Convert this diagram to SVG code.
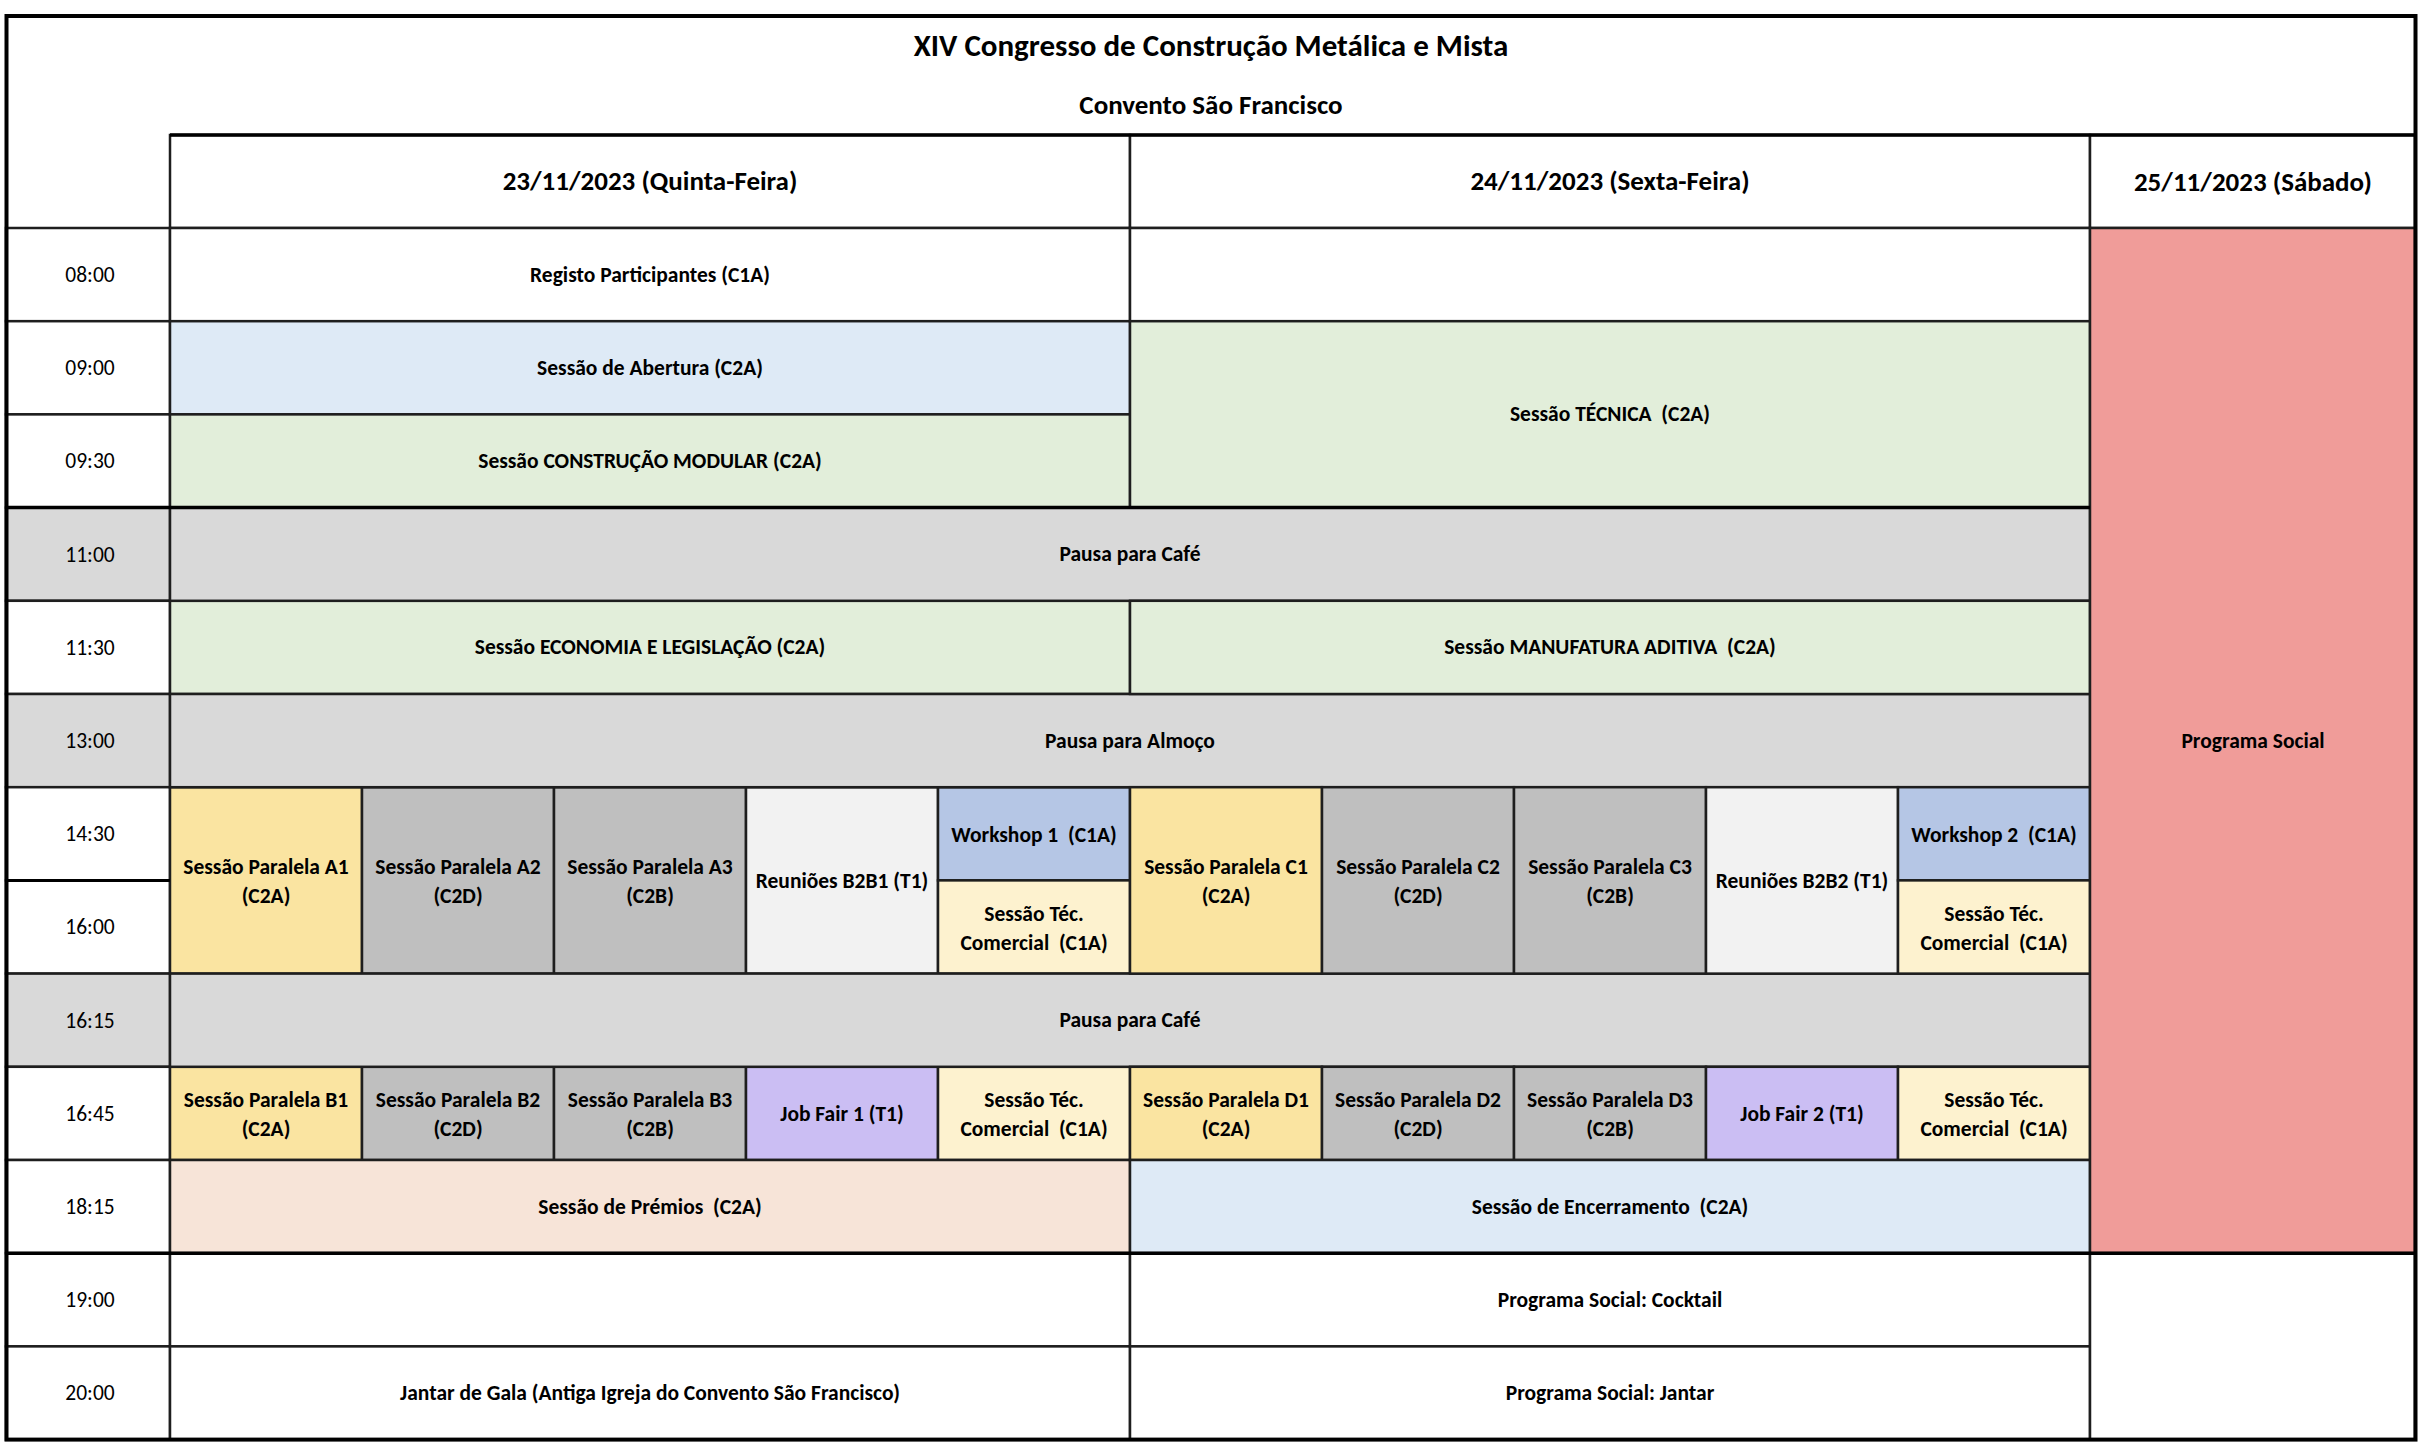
<svg xmlns="http://www.w3.org/2000/svg" width="2423" height="1453" viewBox="0 0 2423 1453">
<style>
.t{font-family:Carlito,Lato,"Liberation Sans Narrow","Liberation Sans",sans-serif;font-weight:bold;font-size:21.5px;text-anchor:middle;fill:#000;white-space:pre}
.tm{font-weight:normal}
.h{font-size:27px}
.ti{font-size:31px}
.c{stroke:#1e1e1e;stroke-width:2.5}
.w{fill:#FFFFFF}.bl{fill:#DEEAF6}.gr{fill:#E2EEDA}.g{fill:#D9D9D9}.pk{fill:#F09C99}
.y{fill:#FAE4A1}.g2{fill:#BFBFBF}.lt{fill:#F2F2F2}.wb{fill:#B5C6E5}.cr{fill:#FDF2CF}.pu{fill:#CBBEF3}.pe{fill:#F7E4D8}
.thick{stroke:#000;stroke-width:4;fill:none}
</style>
<rect x="0" y="0" width="2423" height="1453" fill="#FFFFFF"/>
<g id="title">
<rect x="6" y="16" width="2409" height="119" class="w"/>
<text class="t ti" x="1211" y="56">XIV Congresso de Construção Metálica e Mista</text>
<text class="t h" x="1211" y="114">Convento São Francisco</text>
</g>
<g id="time-header"><rect x="6" y="16" width="164" height="212" class="w"/></g>
<g id="hdr-day1"><rect x="170" y="135" width="960" height="93" class="w c"/><text class="t h" x="650" y="190">23/11/2023 (Quinta-Feira)</text></g>
<g id="hdr-day2"><rect x="1130" y="135" width="960" height="93" class="w c"/><text class="t h" x="1610" y="190">24/11/2023 (Sexta-Feira)</text></g>
<g id="hdr-day3"><rect x="2090" y="135" width="325" height="93" class="w c"/><text class="t h" x="2253" y="191">25/11/2023 (Sábado)</text></g>

<g id="times">
<g id="t0800"><rect x="6" y="228" width="164" height="93.2" class="w c"/><text class="t tm" x="90" y="282">08:00</text></g>
<g id="t0900"><rect x="6" y="321.2" width="164" height="93.2" class="w c"/><text class="t tm" x="90" y="375.2">09:00</text></g>
<g id="t0930"><rect x="6" y="414.4" width="164" height="93.2" class="w c"/><text class="t tm" x="90" y="468.4">09:30</text></g>
<g id="t1100"><rect x="6" y="507.6" width="164" height="93.2" class="g c"/><text class="t tm" x="90" y="561.6">11:00</text></g>
<g id="t1130"><rect x="6" y="600.8" width="164" height="93.2" class="w c"/><text class="t tm" x="90" y="654.8">11:30</text></g>
<g id="t1300"><rect x="6" y="694" width="164" height="93.2" class="g c"/><text class="t tm" x="90" y="748">13:00</text></g>
<g id="t1430"><rect x="6" y="787.2" width="164" height="93.2" class="w c"/><text class="t tm" x="90" y="841.2">14:30</text></g>
<g id="t1600"><rect x="6" y="880.4" width="164" height="93.2" class="w c"/><text class="t tm" x="90" y="934.4">16:00</text></g>
<g id="t1615"><rect x="6" y="973.6" width="164" height="93.2" class="g c"/><text class="t tm" x="90" y="1027.6">16:15</text></g>
<g id="t1645"><rect x="6" y="1066.8" width="164" height="93.2" class="w c"/><text class="t tm" x="90" y="1120.8">16:45</text></g>
<g id="t1815"><rect x="6" y="1160" width="164" height="93.2" class="w c"/><text class="t tm" x="90" y="1214">18:15</text></g>
<g id="t1900"><rect x="6" y="1253.2" width="164" height="93.2" class="w c"/><text class="t tm" x="90" y="1307.2">19:00</text></g>
<g id="t2000"><rect x="6" y="1346.4" width="164" height="93.2" class="w c"/><text class="t tm" x="90" y="1400.4">20:00</text></g>
</g>

<g id="day1">
<g id="registo"><rect x="170" y="228" width="960" height="93.2" class="w c"/><text class="t" x="650" y="281.6">Registo Participantes (C1A)</text></g>
<g id="abertura"><rect x="170" y="321.2" width="960" height="93.2" class="bl c"/><text class="t" x="650" y="374.8">Sessão de Abertura (C2A)</text></g>
<g id="modular"><rect x="170" y="414.4" width="960" height="93.2" class="gr c"/><text class="t" x="650" y="468">Sessão CONSTRUÇÃO MODULAR (C2A)</text></g>
<g id="economia"><rect x="170" y="600.8" width="960" height="93.2" class="gr c"/><text class="t" x="650" y="654.4">Sessão ECONOMIA E LEGISLAÇÃO (C2A)</text></g>
<g id="pa1"><rect x="170" y="787.2" width="192" height="186.4" class="y c"/><text class="t" x="266" y="874.4">Sessão Paralela A1</text><text class="t" x="266" y="903.4">(C2A)</text></g>
<g id="pa2"><rect x="362" y="787.2" width="192" height="186.4" class="g2 c"/><text class="t" x="458" y="874.4">Sessão Paralela A2</text><text class="t" x="458" y="903.4">(C2D)</text></g>
<g id="pa3"><rect x="554" y="787.2" width="192" height="186.4" class="g2 c"/><text class="t" x="650" y="874.4">Sessão Paralela A3</text><text class="t" x="650" y="903.4">(C2B)</text></g>
<g id="b2b1"><rect x="746" y="787.2" width="192" height="186.4" class="lt c"/><text class="t" x="842" y="888.4">Reuniões B2B1 (T1)</text></g>
<g id="ws1"><rect x="938" y="787.2" width="192" height="93.2" class="wb c"/><text class="t" x="1034" y="842">Workshop 1  (C1A)</text></g>
<g id="stc1"><rect x="938" y="880.4" width="192" height="93.2" class="cr c"/><text class="t" x="1034" y="921">Sessão Téc.</text><text class="t" x="1034" y="950">Comercial  (C1A)</text></g>
<g id="pb1"><rect x="170" y="1066.8" width="192" height="93.2" class="y c"/><text class="t" x="266" y="1107.4">Sessão Paralela B1</text><text class="t" x="266" y="1136.4">(C2A)</text></g>
<g id="pb2"><rect x="362" y="1066.8" width="192" height="93.2" class="g2 c"/><text class="t" x="458" y="1107.4">Sessão Paralela B2</text><text class="t" x="458" y="1136.4">(C2D)</text></g>
<g id="pb3"><rect x="554" y="1066.8" width="192" height="93.2" class="g2 c"/><text class="t" x="650" y="1107.4">Sessão Paralela B3</text><text class="t" x="650" y="1136.4">(C2B)</text></g>
<g id="jf1"><rect x="746" y="1066.8" width="192" height="93.2" class="pu c"/><text class="t" x="842" y="1121.4">Job Fair 1 (T1)</text></g>
<g id="stc1b"><rect x="938" y="1066.8" width="192" height="93.2" class="cr c"/><text class="t" x="1034" y="1107.4">Sessão Téc.</text><text class="t" x="1034" y="1136.4">Comercial  (C1A)</text></g>
<g id="premios"><rect x="170" y="1160" width="960" height="93.2" class="pe c"/><text class="t" x="650" y="1213.6">Sessão de Prémios  (C2A)</text></g>
<g id="d1-1900"><rect x="170" y="1253.2" width="960" height="93.2" class="w c"/></g>
<g id="gala"><rect x="170" y="1346.4" width="960" height="93.2" class="w c"/><text class="t" x="650" y="1400">Jantar de Gala (Antiga Igreja do Convento São Francisco)</text></g>
</g>

<g id="shared">
<g id="cafe1"><rect x="170" y="507.6" width="1920" height="93.2" class="g c"/><text class="t" x="1130" y="561.2">Pausa para Café</text></g>
<g id="almoco"><rect x="170" y="694" width="1920" height="93.2" class="g c"/><text class="t" x="1130" y="747.6">Pausa para Almoço</text></g>
<g id="cafe2"><rect x="170" y="973.6" width="1920" height="93.2" class="g c"/><text class="t" x="1130" y="1027.2">Pausa para Café</text></g>
</g>

<g id="day2">
<g id="d2-0800"><rect x="1130" y="228" width="960" height="93.2" class="w c"/></g>
<g id="tecnica"><rect x="1130" y="321.2" width="960" height="186.4" class="gr c"/><text class="t" x="1610" y="421.4">Sessão TÉCNICA  (C2A)</text></g>
<g id="manufatura"><rect x="1130" y="600.8" width="960" height="93.2" class="gr c"/><text class="t" x="1610" y="654.4">Sessão MANUFATURA ADITIVA  (C2A)</text></g>
<g id="pc1"><rect x="1130" y="787.2" width="192" height="186.4" class="y c"/><text class="t" x="1226" y="874.4">Sessão Paralela C1</text><text class="t" x="1226" y="903.4">(C2A)</text></g>
<g id="pc2"><rect x="1322" y="787.2" width="192" height="186.4" class="g2 c"/><text class="t" x="1418" y="874.4">Sessão Paralela C2</text><text class="t" x="1418" y="903.4">(C2D)</text></g>
<g id="pc3"><rect x="1514" y="787.2" width="192" height="186.4" class="g2 c"/><text class="t" x="1610" y="874.4">Sessão Paralela C3</text><text class="t" x="1610" y="903.4">(C2B)</text></g>
<g id="b2b2"><rect x="1706" y="787.2" width="192" height="186.4" class="lt c"/><text class="t" x="1802" y="888.4">Reuniões B2B2 (T1)</text></g>
<g id="ws2"><rect x="1898" y="787.2" width="192" height="93.2" class="wb c"/><text class="t" x="1994" y="842">Workshop 2  (C1A)</text></g>
<g id="stc2"><rect x="1898" y="880.4" width="192" height="93.2" class="cr c"/><text class="t" x="1994" y="921">Sessão Téc.</text><text class="t" x="1994" y="950">Comercial  (C1A)</text></g>
<g id="pd1"><rect x="1130" y="1066.8" width="192" height="93.2" class="y c"/><text class="t" x="1226" y="1107.4">Sessão Paralela D1</text><text class="t" x="1226" y="1136.4">(C2A)</text></g>
<g id="pd2"><rect x="1322" y="1066.8" width="192" height="93.2" class="g2 c"/><text class="t" x="1418" y="1107.4">Sessão Paralela D2</text><text class="t" x="1418" y="1136.4">(C2D)</text></g>
<g id="pd3"><rect x="1514" y="1066.8" width="192" height="93.2" class="g2 c"/><text class="t" x="1610" y="1107.4">Sessão Paralela D3</text><text class="t" x="1610" y="1136.4">(C2B)</text></g>
<g id="jf2"><rect x="1706" y="1066.8" width="192" height="93.2" class="pu c"/><text class="t" x="1802" y="1121.4">Job Fair 2 (T1)</text></g>
<g id="stc2b"><rect x="1898" y="1066.8" width="192" height="93.2" class="cr c"/><text class="t" x="1994" y="1107.4">Sessão Téc.</text><text class="t" x="1994" y="1136.4">Comercial  (C1A)</text></g>
<g id="encerramento"><rect x="1130" y="1160" width="960" height="93.2" class="bl c"/><text class="t" x="1610" y="1213.6">Sessão de Encerramento  (C2A)</text></g>
<g id="cocktail"><rect x="1130" y="1253.2" width="960" height="93.2" class="w c"/><text class="t" x="1610" y="1306.8">Programa Social: Cocktail</text></g>
<g id="jantar"><rect x="1130" y="1346.4" width="960" height="93.2" class="w c"/><text class="t" x="1610" y="1400">Programa Social: Jantar</text></g>
</g>

<g id="day3">
<g id="social"><rect x="2090" y="228" width="325" height="1025.2" class="pk c"/><text class="t" x="2253" y="747.6">Programa Social</text></g>
<g id="d3-evening"><rect x="2090" y="1253.2" width="325" height="186.4" class="w c"/></g>
</g>

<g id="grid">
<line x1="170" y1="135" x2="2415" y2="135" stroke="#000" stroke-width="3.5"/>
<line x1="6" y1="507.6" x2="2090" y2="507.6" stroke="#000" stroke-width="3.5"/>
<line x1="6" y1="1253.2" x2="2415" y2="1253.2" stroke="#000" stroke-width="3.5"/>
<line x1="6" y1="880.4" x2="170" y2="880.4" stroke="#000" stroke-width="3"/>
<rect x="6.5" y="16" width="2409" height="1423.6" class="thick"/>
</g>
</svg>
